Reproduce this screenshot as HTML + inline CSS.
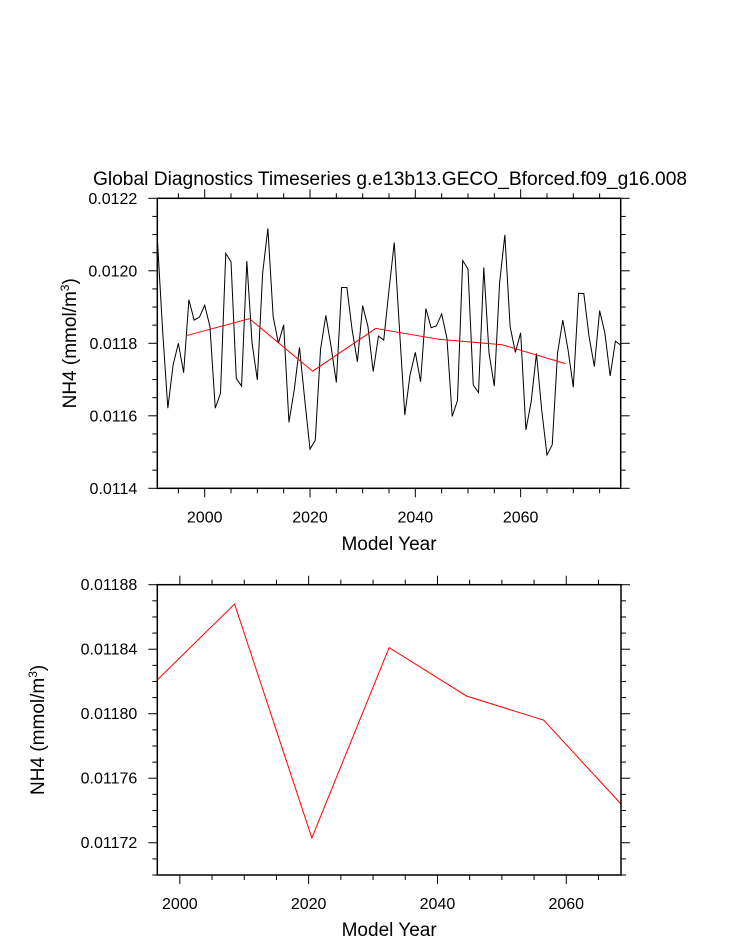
<!DOCTYPE html>
<html><head><meta charset="utf-8"><style>
html,body{margin:0;padding:0;background:#fff;}
svg{display:block;font-family:"Liberation Sans",sans-serif;}
</style></head><body>
<svg id="chart" width="733" height="945" viewBox="0 0 733 945">
<text x="390" y="185" font-size="19.2" text-anchor="middle">Global Diagnostics Timeseries g.e13b13.GECO_Bforced.f09_g16.008</text>
<g id="top"></g>
<g id="bot"></g>
</svg>
<script>
const annualYears = [];
for (let y = 1991; y <= 2079; y++) annualYears.push(y);
const annualValues = [120.90,118.37,116.21,117.40,118.00,117.19,119.20,118.64,118.72,119.05,118.46,116.21,116.62,120.48,120.25,117.03,116.82,120.27,118.00,116.99,119.93,121.17,118.74,118.00,118.51,115.82,116.71,117.89,116.44,115.08,115.33,117.83,118.77,117.91,116.92,119.54,119.54,118.37,117.49,119.04,118.46,117.22,118.20,118.09,119.47,120.78,118.37,116.02,117.13,117.75,116.94,118.96,118.43,118.48,118.81,118.14,115.98,116.42,120.28,120.05,116.85,116.64,120.09,117.72,116.82,119.66,120.99,118.46,117.75,118.29,115.61,116.39,117.72,116.16,114.92,115.20,117.72,118.64,117.82,116.79,119.38,119.37,118.18,117.36,118.90,118.28,117.10,118.06,117.95];
const meanYears = [1996.5,2008.5,2020.5,2032.5,2044.5,2056.5,2068.5];
const meanValues = [0.011821,0.011868,0.011723,0.011841,0.011811,0.011796,0.011744];
const topYTicks = [0.0114,0.0116,0.0118,0.0120,0.0122];
const topYLabels = ["0.0114","0.0116","0.0118","0.0120","0.0122"];
const botYTicks = [0.01172,0.01176,0.01180,0.01184,0.01188];
const botYLabels = ["0.01172","0.01176","0.01180","0.01184","0.01188"];
const xTicks = [2000,2020,2040,2060];
const xLabels = ["2000","2020","2040","2060"];

const NS = "http://www.w3.org/2000/svg";
function mk(parent, tag, attrs, text){
  const e = document.createElementNS(NS, tag);
  for (const k in attrs) e.setAttribute(k, attrs[k]);
  if (text !== undefined) e.textContent = text;
  parent.appendChild(e); return e;
}

function panel(g, cfg){
  const {L,R,T,B,x0,x1,y0,y1,yMinor,yLab,yTitleX,xTitleY} = cfg;
  const sx = v => L + (v - x0) / (x1 - x0) * (R - L);
  const sy = v => B - (v - y0) / (y1 - y0) * (B - T);
  for (let yr = Math.ceil(x0/5)*5; yr <= x1; yr += 5){
    const major = yr % 20 === 0, len = major ? 9 : 5;
    const t1 = mk(g,'line',{x1:sx(yr),x2:sx(yr),y1:B,y2:B+len,stroke:'#000','stroke-width':1});
    
    
    const t2 = mk(g,'line',{x1:sx(yr),x2:sx(yr),y1:T,y2:T-len,stroke:'#000','stroke-width':1});
    
    
  }
  const n = Math.round((y1 - y0) / yMinor);
  for (let i = 0; i <= n; i++){
    const v = y0 + i * yMinor;
    const major = cfg.yTicks.some(t => Math.abs(t - v) < yMinor/10);
    const len = major ? 9 : 5;
    const a = mk(g,'line',{x1:L,x2:L-len,y1:sy(v),y2:sy(v),stroke:'#000','stroke-width':1});
    
    
    const b = mk(g,'line',{x1:R,x2:R+len,y1:sy(v),y2:sy(v),stroke:'#000','stroke-width':1});
    
    
  }
  cfg.yTicks.forEach((t,i) => {
    const e = mk(g,'text',{x:L-20,y:sy(t)+5.5,'font-size':16,'text-anchor':'end'}, yLab[i]);
    
    
  });
  xTicks.forEach((t,i) => {
    if (t < x0 || t > x1) return;
    const e = mk(g,'text',{x:sx(t),y:B+34,'font-size':16,'text-anchor':'middle'}, xLabels[i]);
    
    
  });
  const xt = mk(g,'text',{x:(L+R)/2,y:xTitleY,'font-size':19,'text-anchor':'middle'}, 'Model Year');
  
  
  const cy = (T+B)/2;
  const yt = mk(g,'text',{x:yTitleX,y:cy,'font-size':19,'text-anchor':'middle',transform:`rotate(-90 ${yTitleX} ${cy})`});
  
  
  mk(yt,'tspan',{},'NH4 (mmol/m');
  mk(yt,'tspan',{dy:-7,'font-size':12},'3');
  mk(yt,'tspan',{dy:7},')');
  const cid = 'clip' + cfg.id;
  const cp = mk(g,'clipPath',{id:cid});
  mk(cp,'rect',{x:L,y:T,width:R-L,height:B-T});
  if (cfg.annual){
    const pts = annualYears.map((yr,i) => sx(yr).toFixed(2)+','+sy(annualValues[i]*1e-4).toFixed(2)).join(' ');
    const pl = mk(g,'polyline',{points:pts,fill:'none',stroke:'#000','stroke-width':1,'clip-path':`url(#${cid})`});
    
    
  }
  const mp = meanYears.map((yr,i) => sx(yr).toFixed(2)+','+sy(meanValues[i]).toFixed(2)).join(' ');
  const ml = mk(g,'polyline',{points:mp,fill:'none',stroke:'#ff0000','stroke-width':1,'clip-path':`url(#${cid})`});
  
  
  const fr = mk(g,'rect',{x:L,y:T,width:R-L,height:B-T,fill:'none',stroke:'#000','stroke-width':1.5});
  
  
}

panel(document.getElementById('top'), {id:'t',L:157.3,R:620.7,T:198.3,B:488.3,x0:1991,x1:2079,y0:0.0114,y1:0.0122,
  yMinor:0.00005,yTicks:topYTicks,yLab:topYLabels,yTitleX:76,xTitleY:550,annual:true});
panel(document.getElementById('bot'), {id:'b',L:157.3,R:621,T:584.7,B:875,x0:1996.5,x1:2068.5,y0:0.0117,y1:0.01188,
  yMinor:0.00001,yTicks:botYTicks,yLab:botYLabels,yTitleX:44,xTitleY:936,annual:false});
</script>
</body></html>
